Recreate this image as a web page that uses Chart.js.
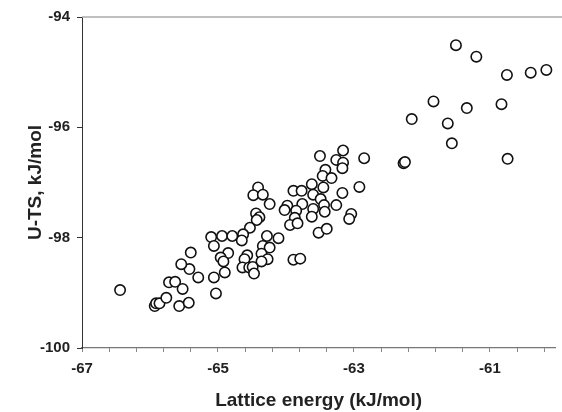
<!DOCTYPE html>
<html>
<head>
<meta charset="utf-8">
<script src="https://cdn.jsdelivr.net/npm/chart.js@4.4.0/dist/chart.umd.min.js"></script>
<style>
html, body { margin: 0; padding: 0; background: #fff; }
</style>
</head>
<body>
<canvas id="chart" width="562" height="412"></canvas>
<script>
// lattice energy (kJ/mol) and U-TS (kJ/mol)
var latticeEnergy = [
	-61.50, -61.20, -60.75, -60.40, -60.17, -61.83, -61.34, -60.83, -62.15, -61.62,
	-61.56, -60.74, -62.27, -62.25, -62.85, -62.92, -63.16, -63.50, -63.26, -63.16,
	-63.17, -63.42, -63.46, -63.33, -63.62, -63.45, -63.89, -63.77, -63.60, -63.17,
	-63.49, -64.24, -63.98, -64.02, -63.76, -63.60, -63.44, -63.26, -63.43, -63.85,
	-63.87, -63.62, -63.04, -63.07, -63.94, -63.83, -63.52, -63.40, -64.11, -64.28,
	-64.41, -64.48, -64.34, -64.44, -64.39, -64.43, -64.53, -64.63, -64.65, -65.10,
	-64.94, -64.79, -65.06, -64.34, -64.24, -64.36, -64.57, -64.85, -64.96, -64.92,
	-64.27, -64.36, -64.61, -64.64, -64.54, -64.49, -64.47, -64.90, -65.06, -65.40,
	-65.42, -65.29, -63.89, -63.79, -66.44, -65.93, -65.91, -65.86, -65.76, -65.57,
	-65.43, -65.72, -65.63, -65.52, -65.54, -65.03
];
var freeEnergy = [
	-94.51, -94.72, -95.05, -95.01, -94.96, -95.53, -95.65, -95.58, -95.85, -95.93,
	-96.29, -96.57, -96.65, -96.63, -96.56, -97.08, -96.42, -96.52, -96.59, -96.64,
	-96.74, -96.77, -96.88, -96.92, -97.03, -97.09, -97.15, -97.15, -97.22, -97.19,
	-97.30, -97.39, -97.42, -97.50, -97.39, -97.48, -97.41, -97.41, -97.53, -97.51,
	-97.64, -97.62, -97.57, -97.66, -97.77, -97.74, -97.91, -97.84, -98.01, -97.97,
	-97.09, -97.23, -97.22, -97.56, -97.63, -97.68, -97.82, -97.94, -98.05, -97.99,
	-97.97, -97.97, -98.15, -98.15, -98.18, -98.29, -98.32, -98.28, -98.36, -98.43,
	-98.39, -98.43, -98.39, -98.54, -98.54, -98.53, -98.65, -98.63, -98.72, -98.27,
	-98.57, -98.72, -98.40, -98.38, -98.95, -99.24, -99.19, -99.19, -99.09, -99.24,
	-99.18, -98.81, -98.80, -98.93, -98.48, -99.01
];
var xTickLabels = [-67, -65, -63, -61];
var yTickLabels = [-100, -98, -96, -94];
var xMinorStep = 0.4;

var points = [];
for (var i = 0; i < latticeEnergy.length; i++) {
	points.push({ x: latticeEnergy[i], y: freeEnergy[i] });
}

var labelFont = { family: 'Liberation Sans, Arial, sans-serif', size: 15, weight: 'bold' };
var titleFont = { family: 'Liberation Sans, Arial, sans-serif', size: 19, weight: 'bold' };

// grey line along the top of the plot box
var topLine = {
	id: 'topLine',
	afterDraw: function (c) {
		var a = c.chartArea;
		var g = c.ctx;
		g.save();
		g.strokeStyle = '#aaaaaa';
		g.lineWidth = 1.5;
		g.beginPath();
		g.moveTo(a.left, a.top);
		g.lineTo(c.width, a.top);
		g.stroke();
		g.restore();
	}
};

var ctx = document.getElementById('chart');
var chart = new Chart(ctx, {
	type: 'scatter',
	data: {
		datasets: [{
			data: points,
			pointRadius: 5.2,
			pointHoverRadius: 5.2,
			pointBorderWidth: 1.6,
			pointBorderColor: '#111111',
			pointBackgroundColor: '#ffffff'
		}]
	},
	options: {
		responsive: false,
		animation: false,
		devicePixelRatio: 1,
		layout: { padding: { top: 17, right: 0, left: 0, bottom: 0 } },
		plugins: { legend: { display: false }, tooltip: { enabled: false } },
		scales: {
			x: {
				type: 'linear',
				min: xTickLabels[0],
				max: -60.04,
				afterBuildTicks: function (s) {
					var t = [];
					for (var v = xTickLabels[0]; v < s.max; v += xMinorStep) {
						t.push({ value: Math.round(v * 10) / 10 });
					}
					s.ticks = t;
				},
				afterFit: function (s) { s.height = 64; },
				border: { color: '#777777', width: 1.2 },
				grid: { drawOnChartArea: false, drawTicks: true, tickLength: 4, color: '#888888' },
				ticks: {
					autoSkip: false,
					maxRotation: 0,
					padding: 8,
					color: '#222222',
					font: labelFont,
					callback: function (v) {
						return xTickLabels.indexOf(Math.round(v * 10) / 10) >= 0 ? String(v) : '';
					}
				},
				title: {
					display: true,
					text: 'Lattice energy (kJ/mol)',
					color: '#222222',
					padding: { top: 0, bottom: 0 },
					font: titleFont
				}
			},
			y: {
				type: 'linear',
				min: yTickLabels[0],
				max: yTickLabels[yTickLabels.length - 1],
				afterBuildTicks: function (s) {
					s.ticks = yTickLabels.map(function (v) { return { value: v }; });
				},
				afterFit: function (s) { s.width = 82; },
				border: { color: '#333333', width: 1 },
				grid: { drawOnChartArea: false, drawTicks: true, tickLength: 5, color: '#333333' },
				ticks: {
					padding: 7,
					color: '#222222',
					font: labelFont
				},
				title: {
					display: true,
					text: 'U-TS, kJ/mol',
					color: '#222222',
					padding: { top: 24, bottom: 0 },
					font: titleFont
				}
			}
		}
	},
	plugins: [topLine]
});
</script>
</body>
</html>
